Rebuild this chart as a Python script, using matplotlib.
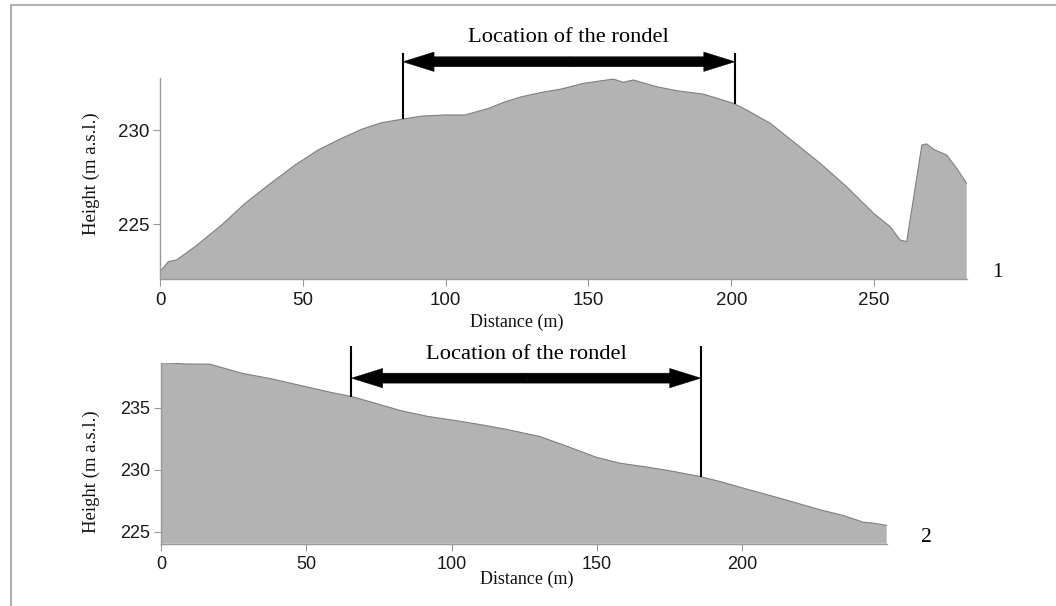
import numpy as np
import matplotlib
matplotlib.use("Agg")
import matplotlib.pyplot as plt
from matplotlib.lines import Line2D

# ---- Profile 1 ----
dist1 = [0.0, 2.9, 5.8, 12.3, 21.6, 29.8, 37.9, 47.3, 55.4, 63.6, 70.6, 77.6,
         84.6, 91.6, 99.8, 106.8, 115.0, 120.8, 126.6, 133.6, 140.5, 148.2,
         158.7, 162.2, 165.7, 173.9, 180.9, 190.2, 200.7, 205.4, 213.6, 221.7,
         231.1, 240.4, 249.8, 255.6, 259.1, 261.4, 266.7, 268.4, 270.8, 275.4,
         278.9, 282.4]
height1 = [222.46, 223.0, 223.09, 223.8, 224.95, 226.1, 227.07, 228.14, 228.94,
           229.56, 230.04, 230.39, 230.57, 230.74, 230.8, 230.8, 231.15, 231.5,
           231.77, 232.0, 232.18, 232.48, 232.71, 232.54, 232.66, 232.3, 232.09,
           231.91, 231.42, 231.06, 230.36, 229.38, 228.23, 226.98, 225.57,
           224.86, 224.15, 224.06, 229.2, 229.26, 228.97, 228.67, 227.96, 227.16]

# ---- Profile 2 ----
dist2 = [0.0, 8.3, 16.8, 19.7, 27.7, 38.1, 49.5, 58.7, 65.6, 73.6, 82.8, 91.9,
         101.1, 110.3, 118.3, 124.5, 130.3, 138.3, 149.8, 157.8, 167.0, 176.2,
         185.3, 192.2, 201.4, 210.6, 218.6, 226.6, 234.6, 241.5, 245.0, 249.6]
height2 = [238.61, 238.5, 238.48, 238.29, 237.76, 237.3, 236.69, 236.2, 235.88,
           235.35, 234.73, 234.28, 233.96, 233.61, 233.27, 232.96, 232.67, 232.0,
           231.0, 230.53, 230.22, 229.87, 229.46, 229.06, 228.45, 227.86, 227.33,
           226.79, 226.33, 225.79, 225.71, 225.53]

rondel1 = [85.0, 201.3]
rondel2 = [65.5, 185.7]
xticks1 = [0, 50, 100, 150, 200, 250]
yticks1 = [225, 230]
xticks2 = [0, 50, 100, 150, 200]
yticks2 = [225, 230, 235]
panel_labels = ["1", "2"]
rondel_text = "Location of the rondel"
xlabel_text = "Distance (m)"
ylabel_text = "Height (m a.s.l.)"

SERIF = ["Liberation Serif", "DejaVu Serif"]
SANS = ["Liberation Sans", "DejaVu Sans"]

W, H = 1056, 606
fig = plt.figure(figsize=(W / 100, H / 100), dpi=100)


def ax_rect(l, t, r, b):
    return [l / W, 1 - b / H, (r - l) / W, (b - t) / H]


ax1 = fig.add_axes(ax_rect(160, 78.3, 966.7, 279.3))
ax2 = fig.add_axes(ax_rect(161, 362.7, 886.7, 543.7))

FILL = "#b3b3b3"
EDGE = "#7f7f7f"
SPINE = "#9a9a9a"


def setup(ax, d, h, ylim, xt, yt, fs):
    ax.set_xlim(0, d[-1])
    ax.set_ylim(*ylim)
    ax.fill_between(d, h, ylim[0], facecolor=FILL, edgecolor="none", zorder=1)
    ax.plot(d, h, color=EDGE, lw=0.8, zorder=2)
    for s in ["top", "right"]:
        ax.spines[s].set_visible(False)
    for s in ["left", "bottom"]:
        ax.spines[s].set_color(SPINE)
        ax.spines[s].set_linewidth(1.0)
    ax.set_xticks(xt)
    ax.set_yticks(yt)
    ax.tick_params(axis="both", direction="out", length=5, width=0.8,
                   color=SPINE, labelcolor="#1a1a1a", labelsize=fs)
    ax.tick_params(axis="x", pad=4)
    ax.tick_params(axis="y", pad=2.5)
    for lab in ax.get_xticklabels() + ax.get_yticklabels():
        lab.set_family(SANS)
    ax.set_xlabel(xlabel_text, family=SERIF, fontsize=13, color="#111111")
    ax.set_ylabel(ylabel_text, family=SERIF, fontsize=13.5, color="#111111")


setup(ax1, dist1, height1, (222.06, 232.75), xticks1, yticks1, 13.5)
setup(ax2, dist2, height2, (224.06, 238.6), xticks2, yticks2, 13)

# label positions
ax1.xaxis.set_label_coords((516.5 - 160) / 806.7, (279.3 - 322) / 201.0)
ax1.yaxis.set_label_coords((91.5 - 160) / 806.7, (279.3 - 173.5) / 201.0)
ax2.xaxis.set_label_coords((526.6 - 161) / 725.7, (543.7 - 579) / 181.0)
ax2.yaxis.set_label_coords((91.5 - 161) / 725.7, (543.7 - 471.5) / 181.0)
for ax in (ax1, ax2):
    ax.xaxis.label.set_va("center")
    ax.yaxis.label.set_va("center")


def rondel(ax, d, h, r, y_line_top, y_arrow, y_text):
    for x in r:
        ax.plot([x, x], [y_line_top, np.interp(x, d, h)], color="black",
                lw=1.5, clip_on=False, zorder=5, solid_capstyle="butt")
    mid = 0.5 * (r[0] + r[1])
    style = "simple,head_length=2.25,head_width=1.4,tail_width=0.72"
    for x in r:
        ax.annotate("", xy=(x, y_arrow), xytext=(mid, y_arrow),
                    annotation_clip=False,
                    arrowprops=dict(arrowstyle=style, mutation_scale=10,
                                    fc="black", ec="black", lw=0.3,
                                    shrinkA=0, shrinkB=0))
    ax.text(mid, y_text, rondel_text, family=SERIF, fontsize=16.2,
            ha="center", va="center", clip_on=False)


rondel(ax1, dist1, height1, rondel1, 234.1, 233.63, 234.9)
rondel(ax2, dist2, height2, rondel2, 239.98, 237.36, 239.27)

fig.text(997 / W, 1 - 272.5 / H, panel_labels[0], family=SERIF, fontsize=15.5,
         ha="center", va="center")
fig.text(926 / W, 1 - 538 / H, panel_labels[1], family=SERIF, fontsize=15.5,
         ha="center", va="center")

# outer frame (top and left)
fig.add_artist(Line2D([11 / W, 1.0], [1 - 5 / H, 1 - 5 / H], color="#b0b0b0", lw=1.5))
fig.add_artist(Line2D([11 / W, 11 / W], [0.0, 1 - 5 / H], color="#b0b0b0", lw=1.5))

fig.savefig("out.png", dpi=100)
